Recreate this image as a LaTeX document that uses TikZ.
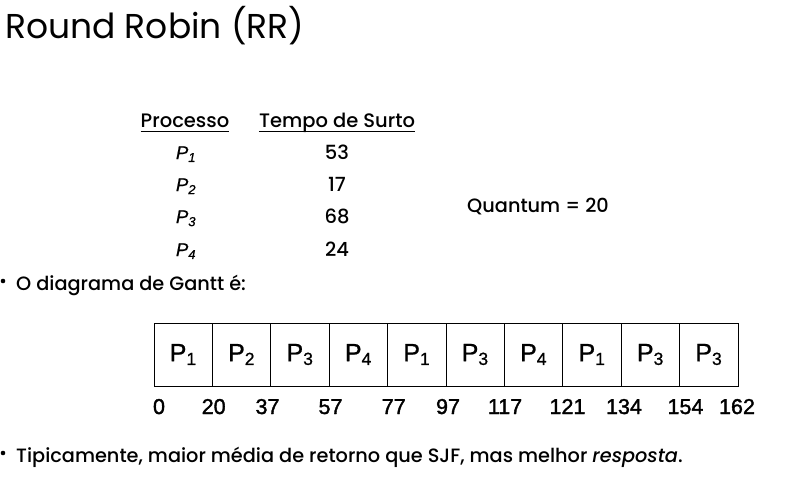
\documentclass[tikz,border=0pt]{standalone}
\usepackage{fontspec}
\setmainfont{Poppins}
\newfontfamily\medfont{Poppins}[UprightFont={* Medium}, ItalicFont={* Medium Italic}]
\newfontfamily\arialfont{Liberation Sans}[FakeBold=0.8]
\newfontfamily\arialheavy{Liberation Sans}[FakeBold=1.6]
\usetikzlibrary{positioning}

\begin{document}
\begin{tikzpicture}[x=1pt, y=-1pt,
    txt/.style={anchor=base west, inner sep=0pt, font=\medfont\fontsize{19.3}{22}\selectfont},
    hdr/.style={anchor=base, inner sep=0pt, font=\medfont\fontsize{19.5}{22}\selectfont},
    entry/.style={anchor=base, inner sep=0pt, font=\medfont\fontsize{19.5}{22}\selectfont},
    proc/.style={anchor=base, inner sep=0pt, font=\arialfont\itshape\fontsize{18.5}{22}\selectfont},
    cell/.style={draw, line width=0.8pt, minimum width=58.4pt, minimum height=63pt,
                 inner sep=0pt, font=\arialfont\fontsize{25}{28}\selectfont},
    tick/.style={anchor=base, inner sep=0pt, font=\arialheavy\fontsize{21.5}{24}\selectfont}]
  \useasboundingbox (0,0) rectangle (785,498);

  % title
  \node[anchor=base west, inner sep=0pt, font=\fontsize{34.5}{40}\selectfont] (title) at (5,38) {Round Robin (RR)};

  % table of processes
  \node[hdr] (hproc) at (185,127) {Processo};
  \node[hdr] (htime) at (337,127) {Tempo de Surto};
  \draw[line width=1pt] ([yshift=-4pt]hproc.base west) -- ([yshift=-4pt]hproc.base east);
  \draw[line width=1pt] ([yshift=-4pt]htime.base west) -- ([yshift=-4pt]htime.base east);
  \foreach \p/\b/\y in {1/53/159, 2/17/191, 3/68/223, 4/24/256}{
    \node[proc] (p\p) at (186,\y) {P\textsubscript{\p}};
    \node[entry] (b\p) at (337,\y) {\b};
  }
  \node[txt] (quant) at (467,212) {Quantum = 20};

  % bullets
  \node[txt] (item1) at (16,290) {O diagrama de Gantt é:};
  \fill (3,281) circle (2.3pt);
  \node[txt] (item2) at (16,462) {Tipicamente, maior média de retorno que SJF, mas melhor \textit{resposta}.};
  \fill (3,453) circle (2.3pt);

  % gantt chart
  \foreach \p [count=\i] in {1,2,3,4,1,3,4,1,3,3}{
    \node[cell] (g\i) at ({154+(\i-0.5)*58.4},354.5) {P\textsubscript{\p}};
  }
  \foreach \t/\x [count=\j from 0] in {0/159,20/213.7,37/267.5,57/330.5,77/393.7,97/448,117/505,121/567.5,134/624,154/685.5,162/737}{
    \node[tick] (t\j) at (\x,414) {\t};
  }
\end{tikzpicture}
\end{document}
